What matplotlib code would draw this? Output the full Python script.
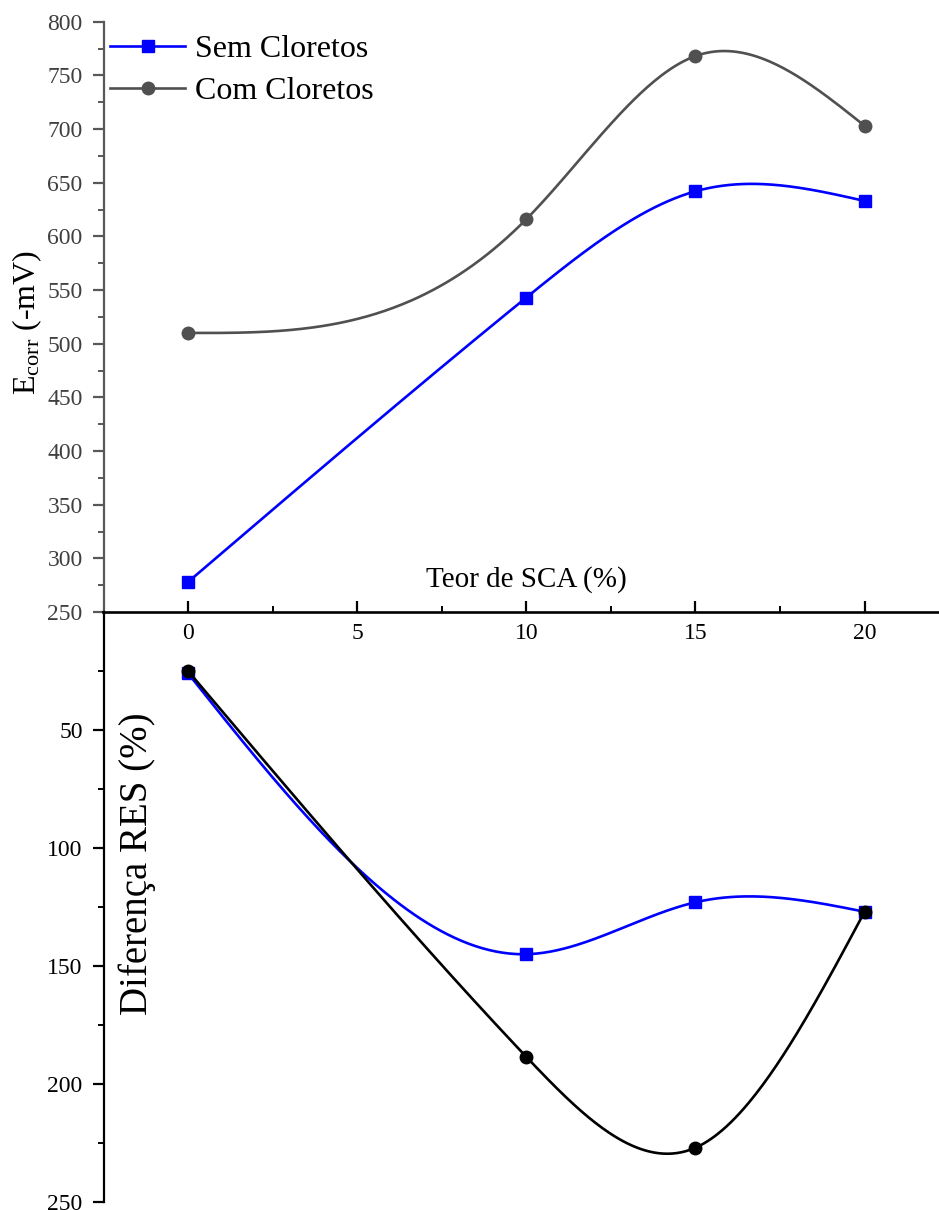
import numpy as np
import matplotlib
matplotlib.use("Agg")
import matplotlib.pyplot as plt

plt.rcParams['font.family'] = ['Liberation Serif', 'DejaVu Serif']
plt.rcParams['mathtext.fontset'] = 'custom'
plt.rcParams['mathtext.rm'] = 'Liberation Serif'
plt.rcParams['mathtext.it'] = 'Liberation Serif:italic'

# ---- data ----
teor_sca = [0, 10, 15, 20]
ecorr_sem = [278, 543, 642, 633]
ecorr_com = [510, 616, 768, 703]
res_sem = [26, 145, 123, 127]
res_com = [25, 188.5, 227, 127]
x_ticks = [0, 5, 10, 15, 20]
y1_ticks = [250, 300, 350, 400, 450, 500, 550, 600, 650, 700, 750, 800]
y2_ticks = [50, 100, 150, 200, 250]
labels = ["Sem Cloretos", "Com Cloretos"]


def natural_spline(x, y, n=300):
    x = np.asarray(x, float)
    y = np.asarray(y, float)
    k = len(x)
    h = np.diff(x)
    A = np.zeros((k, k))
    b = np.zeros(k)
    A[0, 0] = 1
    A[-1, -1] = 1
    for i in range(1, k - 1):
        A[i, i - 1] = h[i - 1]
        A[i, i] = 2 * (h[i - 1] + h[i])
        A[i, i + 1] = h[i]
        b[i] = 6 * ((y[i + 1] - y[i]) / h[i] - (y[i] - y[i - 1]) / h[i - 1])
    M = np.linalg.solve(A, b)
    xs = np.linspace(x[0], x[-1], n)
    ys = np.empty_like(xs)
    for j, xv in enumerate(xs):
        i = min(np.searchsorted(x, xv, side='right') - 1, k - 2)
        i = max(i, 0)
        hi = h[i]
        t1 = x[i + 1] - xv
        t0 = xv - x[i]
        ys[j] = (M[i] * t1 ** 3 / (6 * hi) + M[i + 1] * t0 ** 3 / (6 * hi)
                 + (y[i] / hi - M[i] * hi / 6) * t1
                 + (y[i + 1] / hi - M[i + 1] * hi / 6) * t0)
    return xs, ys


W, H = 939, 1210
fig = plt.figure(figsize=(W / 100, H / 100), dpi=100)
left = 103.5 / W
ax1 = fig.add_axes([left, (H - 612) / H, 1 - left, (612 - 21.7) / H])
ax2 = fig.add_axes([left, (H - 1202) / H, 1 - left, (1202 - 612) / H])

blue = '#0000FF'
gray = '#505050'
axgray = '#585858'

# ---- top panel ----
xs, ys = natural_spline(teor_sca, ecorr_sem)
ax1.plot(xs, ys, color=blue, lw=1.9)
ax1.plot(teor_sca, ecorr_sem, ls='none', marker='s', ms=8, color=blue)
xs, ys = natural_spline(teor_sca, ecorr_com)
ax1.plot(xs, ys, color=gray, lw=1.9)
ax1.plot(teor_sca, ecorr_com, ls='none', marker='o', ms=9, color=gray)

# legend proxies
h1, = ax1.plot([], [], color=blue, lw=1.9, marker='s', ms=8)
h2, = ax1.plot([], [], color=gray, lw=1.9, marker='o', ms=9)
ax1.legend([h1, h2], labels, loc='upper left',
           bbox_to_anchor=(110 / W, 1 - 35 / H), bbox_transform=fig.transFigure,
           frameon=False, fontsize=23, handlelength=2.35, handletextpad=0.3,
           labelspacing=0.38, borderpad=0, borderaxespad=0)

ax1.set_xlim(-2.5, 22.2)
ax1.set_ylim(250, 800)
ax1.set_xticks(x_ticks)
ax1.set_xticks([2.5, 7.5, 12.5, 17.5], minor=True)
ax1.set_yticks(y1_ticks)
ax1.set_yticks(np.arange(275, 800, 50), minor=True)
for s in ['top', 'right']:
    ax1.spines[s].set_visible(False)
ax1.spines['left'].set_color(axgray)
ax1.spines['left'].set_linewidth(1.6)
ax1.spines['bottom'].set_color('black')
ax1.spines['bottom'].set_linewidth(1.9)
ax1.tick_params(axis='x', which='major', direction='in', length=8, width=1.6,
                color='black', labelsize=17, pad=8, labelcolor='black')
ax1.tick_params(axis='x', which='minor', direction='in', length=4, width=1.4,
                color='black')
ax1.tick_params(axis='y', which='major', direction='out', length=8, width=1.6,
                color=axgray, labelsize=17, pad=7, labelcolor='#404040')
ax1.tick_params(axis='y', which='minor', direction='out', length=4.5, width=1.4,
                color=axgray)
ax1.text((526 - 103.5) / (W - 103.5), (612 - 580) / (612 - 21.7), 'Teor de SCA (%)',
         transform=ax1.transAxes, ha='center', va='center', fontsize=21)
ax1.text((27 - 103.5) / (W - 103.5), (612 - 322) / (612 - 21.7),
         r'E$_{\mathrm{corr}}$ (-mV)', transform=ax1.transAxes,
         rotation=90, ha='center', va='center', fontsize=23)
ax1.patch.set_alpha(0)

# ---- bottom panel ----
xs, ys = natural_spline(teor_sca, res_sem)
ax2.plot(xs, ys, color=blue, lw=1.9)
ax2.plot(teor_sca, res_sem, ls='none', marker='s', ms=8, color=blue)
xs, ys = natural_spline(teor_sca, res_com)
ax2.plot(xs, ys, color='black', lw=1.9)
ax2.plot(teor_sca, res_com, ls='none', marker='o', ms=9, color='black')

ax2.set_xlim(-2.5, 22.2)
ax2.set_ylim(250, 0)
ax2.set_yticks(y2_ticks)
ax2.set_yticks(np.arange(25, 250, 50), minor=True)
ax2.set_xticks([])
for s in ['top', 'right', 'bottom']:
    ax2.spines[s].set_visible(False)
ax2.spines['left'].set_color('black')
ax2.spines['left'].set_linewidth(1.6)
ax2.tick_params(axis='y', which='major', direction='out', length=8, width=1.6,
                color='black', labelsize=17, pad=7, labelcolor='black')
ax2.tick_params(axis='y', which='minor', direction='out', length=4.5, width=1.4,
                color='black')
ax2.text((137 - 103.5) / (W - 103.5), (1202 - 864) / 590, 'Diferença RES (%)',
         transform=ax2.transAxes, rotation=90, ha='center', va='center', fontsize=28)
ax2.patch.set_alpha(0)

fig.savefig('out.png', dpi=100)
